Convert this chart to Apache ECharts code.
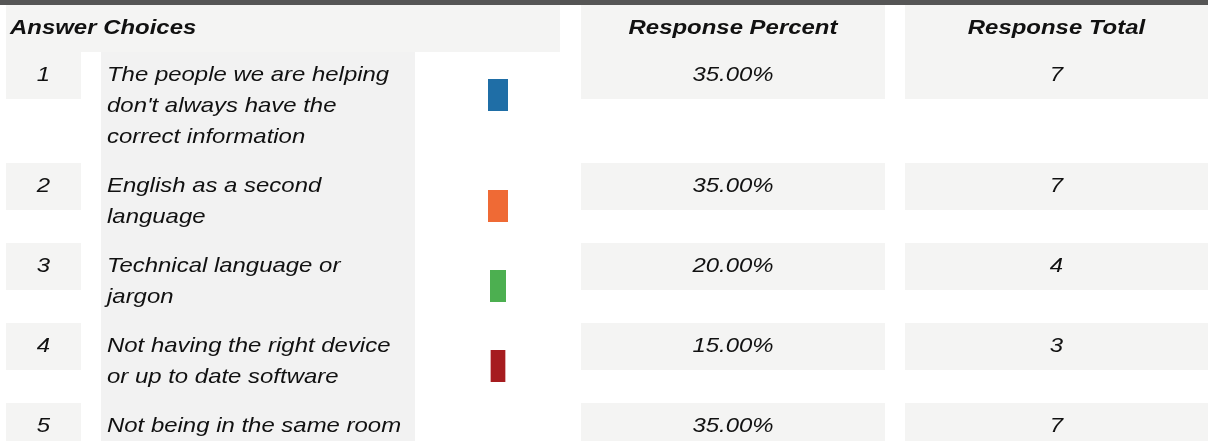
<!DOCTYPE html>
<html>
<head>
<meta charset="utf-8">
<title>Answer Choices</title>
<script src="https://cdn.jsdelivr.net/npm/echarts@6/dist/echarts.min.js"></script>
<style>
  html, body { margin: 0; padding: 0; background: #ffffff; }
  #chart { width: 1208px; height: 441px; }
</style>
</head>
<body>
<div id="chart"></div>
<script>
// data
const headers = ['Answer Choices', 'Response Percent', 'Response Total'];
const rowNums = ['1', '2', '3', '4', '5'];
const choices = [
  "The people we are helping\ndon't always have the\ncorrect information",
  'English as a second\nlanguage',
  'Technical language or\njargon',
  'Not having the right device\nor up to date software',
  'Not being in the same room'
];
const percents = [35, 35, 20, 15, 35];
const totals = [7, 7, 4, 3, 7];
const barColors = ['#1f6ea6', '#ef6a35', '#4caf50', '#a61c1f', '#6a4c9c'];

// layout
const CELL_BG = '#f4f4f3';
const TEXT_COL_BG = '#f2f2f2';
const FONT = '"Liberation Sans", Arial, sans-serif';
const FS = 21;
const SX = 1.14;     // text is drawn a bit wide in the original
const LINE_H = 31;
const ROW_PAD = 18;
const CELL_H = 47;
const HEAD_BOTTOM = 52;
const BAR_MIN_W = 10.7;
const BAR_H = 32;

// row tops follow the number of text lines in each choice
let yy = HEAD_BOTTOM;
const rowTops = choices.map(function (c) {
  const t = yy;
  yy += c.split('\n').length * LINE_H + ROW_PAD;
  return t;
});

function txt(x, y, text, align, bold) {
  return {
    type: 'text',
    x: x,
    y: y,
    scaleX: SX,
    style: {
      text: text,
      fontFamily: FONT,
      fontSize: FS,
      fontStyle: 'italic',
      fontWeight: bold ? 'bold' : 'normal',
      fill: '#111',
      align: align,
      verticalAlign: 'middle'
    }
  };
}

function renderItem(params, api) {
  const i = params.dataIndex;
  const top = rowTops[i];
  const p = api.value(0);
  const children = [
    { type: 'rect', shape: { x: 6, y: top, width: 75, height: CELL_H }, style: { fill: CELL_BG } },
    { type: 'rect', shape: { x: 581, y: top, width: 304, height: CELL_H }, style: { fill: CELL_BG } },
    { type: 'rect', shape: { x: 905, y: top, width: 303, height: CELL_H }, style: { fill: CELL_BG } },
    txt(43.5, top + 23, rowNums[i], 'center'),
    {
      type: 'text',
      x: 107,
      y: top + 23 - LINE_H / 2,
      scaleX: SX,
      style: {
        text: choices[i],
        fontFamily: FONT,
        fontSize: FS,
        fontStyle: 'italic',
        fill: '#111',
        lineHeight: LINE_H,
        align: 'left',
        verticalAlign: 'top'
      }
    },
    txt(733, top + 23, p.toFixed(2) + '%', 'center'),
    txt(1056.5, top + 23, String(totals[i]), 'center')
  ];
  // bar width from the percent axis, only drawn if the whole bar fits in the canvas
  const w = BAR_MIN_W + api.size([p, 0])[0];
  const cx = api.coord([75, 0])[0];
  const by = top + 27;
  if (by + BAR_H <= api.getHeight()) {
    children.push({
      type: 'rect',
      shape: { x: cx - w / 2, y: by, width: w, height: BAR_H },
      style: { fill: barColors[i] }
    });
  }
  return { type: 'group', children: children };
}

const chart = echarts.init(document.getElementById('chart'), null, { renderer: 'canvas' });
chart.setOption({
  backgroundColor: '#ffffff',
  animation: false,
  grid: { left: 478, width: 40, top: HEAD_BOTTOM, bottom: 0 },
  xAxis: { type: 'value', min: 0, max: 150, show: false },
  yAxis: { type: 'value', min: 0, max: 1, show: false },
  graphic: [
    { type: 'rect', z: 0, shape: { x: 0, y: 0, width: 1208, height: 5 }, style: { fill: '#555555' } },
    { type: 'rect', z: 0, shape: { x: 6, y: 5, width: 554, height: HEAD_BOTTOM - 5 }, style: { fill: CELL_BG } },
    { type: 'rect', z: 0, shape: { x: 581, y: 5, width: 304, height: HEAD_BOTTOM - 5 }, style: { fill: CELL_BG } },
    { type: 'rect', z: 0, shape: { x: 905, y: 5, width: 303, height: HEAD_BOTTOM - 5 }, style: { fill: CELL_BG } },
    { type: 'rect', z: 0, shape: { x: 101, y: HEAD_BOTTOM, width: 314, height: 441 - HEAD_BOTTOM }, style: { fill: TEXT_COL_BG } },
    Object.assign(txt(10, 28, headers[0], 'left', true), { z: 1 }),
    Object.assign(txt(733, 28, headers[1], 'center', true), { z: 1 }),
    Object.assign(txt(1056.5, 28, headers[2], 'center', true), { z: 1 })
  ],
  series: [{
    type: 'custom',
    z: 5,
    clip: false,
    renderItem: renderItem,
    data: percents.map(function (p, i) { return [p, i]; })
  }]
});
</script>
</body>
</html>
